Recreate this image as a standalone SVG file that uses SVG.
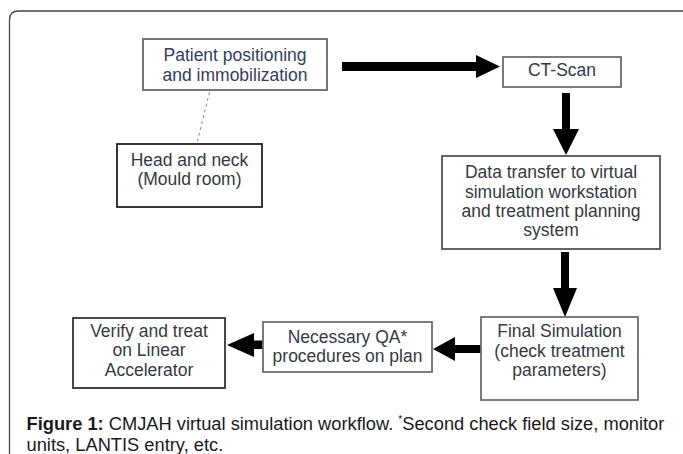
<svg xmlns="http://www.w3.org/2000/svg" width="683" height="454" viewBox="0 0 683 454">
<style>
.box{fill:#fff;stroke:#6e6e6e;stroke-width:1.8}
.lbl{font-family:"Liberation Sans",Arial,sans-serif;font-size:17.5px;fill:#333a44;text-anchor:middle}
.cap{font-family:"Liberation Sans",Arial,sans-serif;font-size:18.3px;fill:#1a1a1a}
.arr{fill:#000}
</style>
<rect width="683" height="454" fill="#fff"/>
<path d="M9.5 460 V20 Q9.5 11 18.5 11 H690" fill="none" stroke="#444" stroke-width="1.3"/>
<g id="connectors">
<line x1="209.5" y1="92" x2="197.5" y2="141" stroke="#888" stroke-width="1" stroke-dasharray="3 3"/>
<polygon class="arr" points="342,62 476,62 476,55 500,66.5 476,78 476,71 342,71"/>
<polygon class="arr" points="562,93 570,93 570,129 579,129 566,155 553,129 562,129"/>
<polygon class="arr" points="561,252 569,252 569,288 577,288 565,317 553,288 561,288"/>
<polygon class="arr" points="481,345 455,345 455,337 433,349 455,361 455,353 481,353"/>
<polygon class="arr" points="263,340.5 254,340.5 254,333 227,345 254,357 254,349 263,349"/>
</g>
<g id="patient">
<rect class="box" x="143" y="39" width="184" height="51" style="stroke:#777;stroke-width:2"/>
<text class="lbl" x="235" y="61" style="fill:#33405a">Patient positioning</text>
<text class="lbl" x="235" y="81" style="fill:#33405a">and immobilization</text>
</g>
<g id="ctscan">
<rect class="box" x="503" y="57" width="118" height="30"/>
<text class="lbl" x="562" y="76">CT-Scan</text>
</g>
<g id="headneck">
<rect class="box" x="117" y="144" width="145" height="63" style="stroke:#222"/>
<text class="lbl" x="189.5" y="166">Head and neck</text>
<text class="lbl" x="189.5" y="185">(Mould room)</text>
</g>
<g id="datatransfer">
<rect class="box" x="442" y="156" width="218" height="93" style="stroke:#555"/>
<text class="lbl" x="551" y="178">Data transfer to virtual</text>
<text class="lbl" x="551" y="197.5">simulation workstation</text>
<text class="lbl" x="551" y="217">and treatment planning</text>
<text class="lbl" x="551" y="236">system</text>
</g>
<g id="finalsim">
<rect class="box" x="481" y="317" width="157" height="83"/>
<text class="lbl" x="559.5" y="337">Final Simulation</text>
<text class="lbl" x="559.5" y="356.5">(check treatment</text>
<text class="lbl" x="559.5" y="376">parameters)</text>
</g>
<g id="qa">
<rect class="box" x="263" y="322" width="169" height="50"/>
<text class="lbl" x="347.5" y="343">Necessary QA*</text>
<text class="lbl" x="347.5" y="362">procedures on plan</text>
</g>
<g id="verify">
<rect class="box" x="73" y="318" width="152" height="70" style="stroke:#333"/>
<text class="lbl" x="149" y="337">Verify and treat</text>
<text class="lbl" x="149" y="356">on Linear</text>
<text class="lbl" x="149" y="376">Accelerator</text>
</g>
<g id="caption">
<text class="cap" x="26.5" y="430"><tspan font-weight="bold">Figure 1:</tspan> CMJAH virtual simulation workflow. <tspan font-size="10" dy="-7">*</tspan><tspan dy="7">Second check field size, monitor</tspan></text>
<text class="cap" x="26.5" y="450.5">units, LANTIS entry, etc.</text>
</g>
</svg>
